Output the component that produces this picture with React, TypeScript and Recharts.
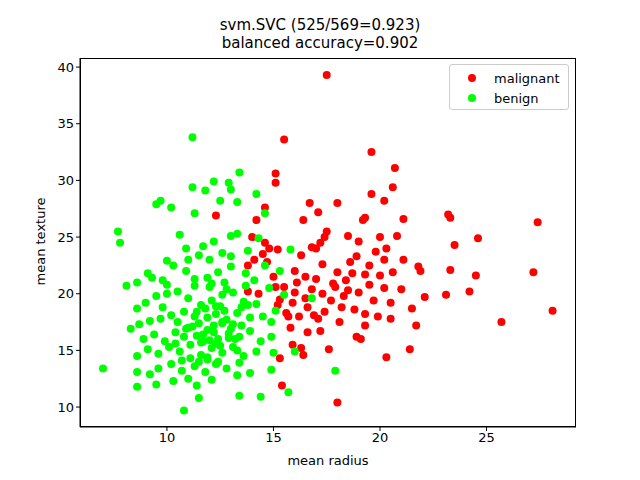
import { Scatter, ScatterChart, XAxis, YAxis } from "recharts";

const malignantX = [17.5, 15.5, 19.6, 20.7, 15.1, 15.1, 20.6, 19.6, 18, 16.7, 20.2, 14.6, 17.1, 19.2, 19.3, 21.1, 23.2, 23.3, 27.4, 17.5, 17.4, 18.5, 19, 20, 20.8, 24.6, 23.5, 16.8, 17.2, 20.3, 19.8, 21.1, 21.8, 16.3, 17.3, 18.6, 18.9, 16, 16.5, 17, 18.0, 18.7, 19.3, 20.0, 20.6, 21.9, 23.3, 24.5, 27.2, 15.5, 16.0, 16.8, 17.3, 17.9, 18.5, 19.0, 19.5, 20.2, 21.0, 22.1, 23.1, 24.2, 28.1, 15.3, 15.9, 16.5, 17.7, 18.2, 18.8, 19.3, 20.5, 21.5, 15.6, 16.2, 17.1, 18.1, 19.3, 20.5, 21.7, 25.7, 15.8, 16.6, 17.2, 19.1, 15.9, 16.3, 18.9, 17.6, 21.4, 20.3, 15.3, 16.4, 15.4, 18.0, 14.0, 14.6, 14.8, 15.2, 14.5, 13.8, 14.1, 14.7, 15.0, 14.3, 15.1, 13.8, 14.2, 12.3, 16.4, 17.0, 19.5, 20.2, 15.7, 16.6, 17.4, 18.3, 19.7, 16.1, 17.8, 18.4, 19.9, 15.2, 16.9];
const malignantY = [39.3, 33.6, 32.5, 31.1, 30.6, 29.8, 29.4, 28.8, 28, 28, 28.2, 27.6, 27.2, 26.5, 26.7, 26.6, 27, 26.7, 26.3, 25.5, 25, 25.1, 24.6, 25, 25.1, 24.9, 24.3, 24.1, 24.5, 24, 23.7, 23, 22.4, 23.4, 22.6, 22.8, 23.3, 22, 21.5, 21.3, 21.9, 21.8, 21.7, 21.6, 21.9, 22.0, 22.1, 21.6, 21.9, 20.6, 20.1, 20.4, 20.0, 20.6, 20.3, 20.1, 20.8, 20.5, 20.4, 19.7, 19.9, 20.2, 18.5, 19.5, 19.2, 19.6, 19.4, 18.8, 18.6, 18.2, 19.2, 18.7, 18.3, 18.0, 17.8, 17.5, 17.2, 17.8, 17.2, 17.5, 17.0, 16.6, 16.7, 16.0, 15.5, 15.2, 16.2, 15.1, 15.1, 14.4, 14.3, 14.6, 11.9, 10.4, 25.0, 24.5, 24.0, 23.9, 23.5, 22.5, 23.0, 22.8, 21.5, 20.0, 20.6, 20.2, 26.5, 26.9, 26.5, 24.0, 22.5, 23.0, 18.0, 18.8, 18.4, 19.8, 19.4, 21.0, 20.9, 21.2, 18.0, 19.0, 18.1];

const benignX = [11.2, 13.4, 11.2, 12.2, 11.8, 12.9, 13.0, 9.7, 9.5, 10.2, 11.3, 12.5, 13.3, 14.6, 14.2, 7.7, 7.8, 10.6, 11.7, 12.2, 13.0, 13.3, 14.3, 10.9, 11.5, 12.6, 13.8, 8.6, 8.1, 9.1, 9.3, 9.8, 10.3, 10.9, 11.3, 11.9, 12.4, 13.0, 13.7, 8.6, 9.0, 9.5, 10.0, 10.5, 11.0, 11.6, 12.1, 12.6, 13.1, 13.6, 14.2, 8.3, 8.7, 9.2, 9.7, 10.2, 10.8, 11.3, 11.8, 12.3, 12.8, 13.3, 13.9, 14.5, 14.9, 8.9, 9.4, 9.9, 10.4, 10.9, 11.4, 11.9, 12.4, 12.9, 13.4, 13.9, 14.4, 14.9, 8.6, 9.1, 9.6, 10.1, 10.6, 11.1, 11.6, 12.1, 12.6, 13.1, 13.6, 14.2, 15.0, 8.6, 9.2, 9.6, 10.2, 10.7, 11.3, 11.8, 12.3, 12.8, 13.4, 13.9, 14.9, 8.6, 9.5, 10.3, 11.4, 12.1, 11.5, 10.8, 13.4, 14.4, 7.0, 15.7, 16.0, 10.0, 12.0, 12.7, 11.5, 12.2, 13.5, 10.5, 9.8, 11.0, 12.0, 13.0, 14.6, 15.3, 14.8, 15.5, 15.1, 10.0, 12.4, 11.0, 13.3, 15.8, 16.8, 17.9, 11.0, 11.7, 12.5, 13.2, 10.4, 11.9, 12.6, 13.8, 11.4, 11.9, 12.3, 12.7, 13.1, 13.5, 11.6, 12.0, 12.5, 12.9, 13.3, 11.2, 11.7, 12.2, 12.6, 13.0, 10.7, 11.1, 11.5, 11.9, 12.3, 10.8, 11.3, 12.8, 14.1, 13.7, 12.1];
const benignY = [33.8, 30.7, 29.4, 29.9, 29.1, 29.8, 29.2, 28.2, 27.9, 27.6, 27.1, 28.2, 28.1, 27.1, 28.8, 25.5, 24.5, 25.2, 24.2, 24.6, 25.1, 25.3, 24.9, 24.0, 23.4, 23.6, 23.8, 21.0, 20.7, 21.8, 21.4, 21.2, 22.5, 22.0, 21.3, 21.4, 21.9, 22.4, 21.8, 18.7, 19.2, 19.8, 20.0, 20.2, 19.6, 19.0, 19.4, 19.9, 20.1, 19.3, 19.1, 16.9, 17.3, 17.6, 17.8, 18.1, 18.4, 18.0, 18.7, 18.2, 17.7, 18.3, 17.9, 18.0, 17.5, 16.0, 16.4, 15.8, 16.6, 16.9, 16.3, 16.8, 16.0, 16.5, 16.2, 16.7, 15.8, 16.2, 14.5, 15.1, 14.7, 15.3, 14.9, 15.5, 14.6, 15.2, 14.8, 15.3, 14.5, 14.9, 14.8, 13.1, 12.9, 13.4, 13.8, 13.2, 13.6, 13.1, 13.8, 13.4, 13.9, 13.0, 13.3, 11.8, 12.0, 12.3, 11.9, 12.4, 10.8, 9.7, 11.0, 10.9, 13.4, 11.3, 14.9, 22.9, 20.6, 21.0, 17.4, 17.2, 17.2, 17.5, 18.8, 23.0, 23.0, 23.3, 22.5, 22.0, 20.5, 19.9, 18.5, 20.8, 14.0, 12.5, 12.8, 23.9, 19.6, 13.2, 17.0, 15.8, 18.9, 16.0, 15.6, 14.2, 17.5, 19.0, 18.4, 17.9, 18.9, 18.5, 17.3, 18.8, 15.7, 15.9, 15.4, 16.1, 15.0, 17.1, 16.4, 16.6, 17.4, 16.9, 14.1, 14.3, 14.0, 14.4, 15.6, 16.2, 20.7, 20.4, 21.2, 20.7, 20.9];

const xTicks = [10, 15, 20, 25];
const yTicks = [10, 15, 20, 25, 30, 35, 40];

const malignant = malignantX.map((x, i) => ({ x, y: malignantY[i] }));
const benign = benignX.map((x, i) => ({ x, y: benignY[i] }));

const font = "DejaVu Sans, sans-serif";

function dot(color: string) {
  return (props: any) => <circle cx={props.cx} cy={props.cy} r={4} fill={color} />;
}

export default function App() {
  return (
    <div style={{ position: "relative", width: 640, height: 480, margin: -8, background: "#fff", fontFamily: font }}>
      <div style={{ position: "absolute", top: 16, width: 640, textAlign: "center", fontSize: 15, lineHeight: "18px" }}>
        svm.SVC (525/569=0.923)
        <br />
        balanced accuracy=0.902
      </div>
      <ScatterChart width={640} height={480} margin={{ top: 58, right: 64, bottom: 23, left: 30 }}>
        <XAxis
          type="number"
          dataKey="x"
          domain={[5.92, 29.2]}
          ticks={xTicks}
          allowDataOverflow
          height={30}
          tickSize={4}
          stroke="#000"
          tick={{ fill: "#000", fontSize: 13, fontFamily: font }}
        />
        <YAxis
          type="number"
          dataKey="y"
          domain={[8.24, 40.8]}
          ticks={yTicks}
          allowDataOverflow
          width={50}
          tickSize={4}
          stroke="#000"
          tick={{ fill: "#000", fontSize: 13, fontFamily: font }}
        />
        <Scatter data={malignant} fill="#ff0000" shape={dot("#ff0000")} isAnimationActive={false} />
        <Scatter data={benign} fill="#00ff00" shape={dot("#00ff00")} isAnimationActive={false} />
      </ScatterChart>
      <div style={{ position: "absolute", left: 80, top: 58, width: 496, height: 369, border: "1px solid #000", boxSizing: "border-box", pointerEvents: "none" }} />
      <div style={{ position: "absolute", left: 228, top: 453, width: 200, textAlign: "center", fontSize: 13 }}>mean radius</div>
      <div style={{ position: "absolute", left: -60, top: 234, width: 200, textAlign: "center", fontSize: 13, transform: "rotate(-90deg)" }}>mean texture</div>
      <div style={{ position: "absolute", left: 449, top: 64, width: 120, height: 46, border: "1px solid #ccc", borderRadius: 3, background: "#fff", fontSize: 13, boxSizing: "border-box", padding: "3px 8px" }}>
        {[["malignant", "#ff0000"], ["benign", "#00ff00"]].map(([name, c]) => (
          <div key={name} style={{ display: "flex", alignItems: "center", height: 20 }}>
            <span style={{ width: 8, height: 8, borderRadius: 4, background: c, margin: "0 18px 0 10px" }} />
            {name}
          </div>
        ))}
      </div>
    </div>
  );
}
